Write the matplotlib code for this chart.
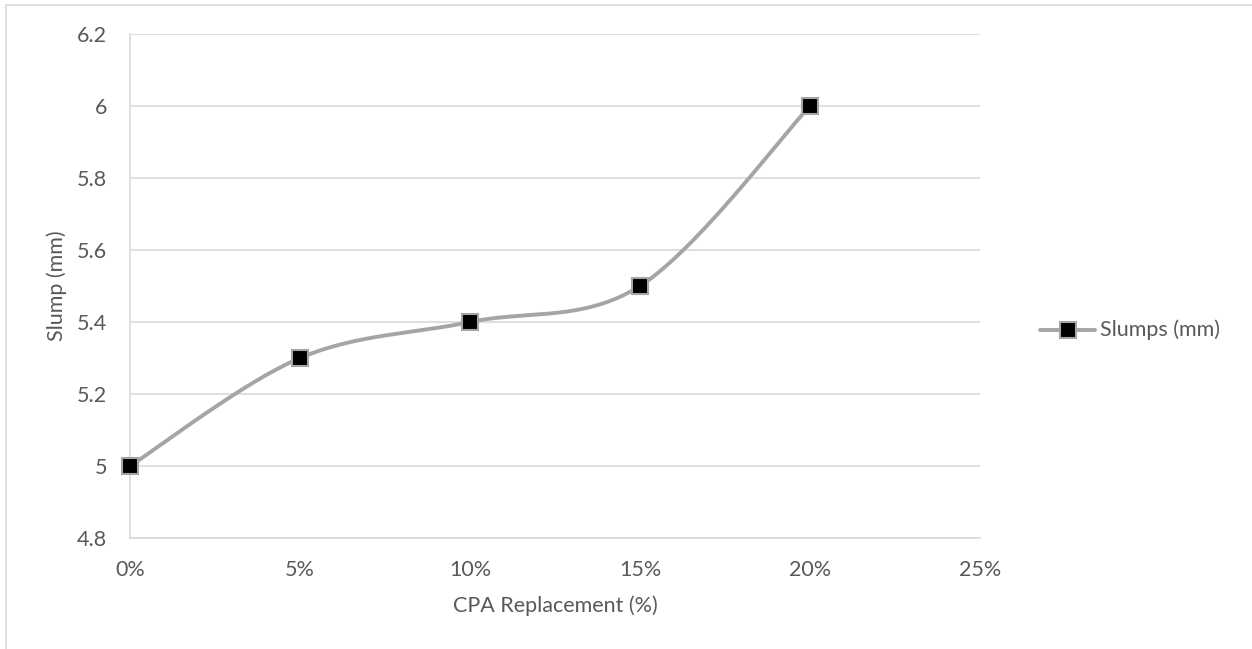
import matplotlib.pyplot as plt
import numpy as np
from matplotlib.patches import Rectangle
from matplotlib.ticker import FuncFormatter

plt.rcParams["font.family"] = ["Lato", "DejaVu Sans"]

replacement = [0.00, 0.05, 0.10, 0.15, 0.20]
slump = [5.0, 5.3, 5.4, 5.5, 6.0]
series_name = "Slumps (mm)"

text_col = "#595959"
grid_col = "#D9D9D9"
line_col = "#A5A5A5"
fs = 15.5


def smooth(xs, ys, n=60):
    # cubic bezier through the points, like a spreadsheet "smoothed line"
    p = np.column_stack([xs, ys]).astype(float)
    ext = np.vstack([p[0], p, p[-1]])
    t = np.linspace(0, 1, n)[:, None]
    out = []
    for i in range(len(p) - 1):
        p0, p1, p2, p3 = ext[i], ext[i + 1], ext[i + 2], ext[i + 3]
        c1 = p1 + (p2 - p0) / 6
        c2 = p2 - (p3 - p1) / 6
        seg = ((1 - t) ** 3) * p1 + 3 * ((1 - t) ** 2) * t * c1 \
            + 3 * (1 - t) * t ** 2 * c2 + t ** 3 * p2
        out.append(seg if i == 0 else seg[1:])
    out = np.vstack(out)
    return out[:, 0], out[:, 1]


fig = plt.figure(figsize=(12.52, 6.49), dpi=100)
fig.patches.append(Rectangle((6 / 1252, -0.1), 1.2, 1 - 5 / 649 + 0.1,
                             transform=fig.transFigure, fill=False,
                             edgecolor=grid_col, linewidth=1.2))
ax = fig.add_axes([130 / 1252, 1 - 538 / 649, 850 / 1252, 504 / 649])

sx, sy = smooth(replacement, slump)
ax.plot(sx, sy, color=line_col, linewidth=2.8, solid_capstyle="round",
        zorder=3, clip_on=False)
ax.plot(replacement, slump, linestyle="none", marker="s", markersize=11,
        markerfacecolor="black", markeredgecolor=line_col, markeredgewidth=1.5,
        zorder=4, clip_on=False)

ax.set_xlim(0, 0.25)
ax.set_ylim(4.8, 6.2)
ax.set_xticks(np.arange(0, 0.26, 0.05))
ax.set_yticks(np.arange(4.8, 6.21, 0.2))
ax.xaxis.set_major_formatter(FuncFormatter(lambda v, _: f"{v * 100:.0f}%"))
ax.yaxis.set_major_formatter(FuncFormatter(
    lambda v, _: f"{round(v)}" if abs(v - round(v)) < 1e-9 else f"{v:.1f}"))
ax.grid(axis="y", color=grid_col, linewidth=1.2)
ax.set_axisbelow(True)
for s in ["top", "right"]:
    ax.spines[s].set_visible(False)
for s in ["left", "bottom"]:
    ax.spines[s].set_color(grid_col)
    ax.spines[s].set_linewidth(1.2)
ax.tick_params(length=0, labelsize=fs, colors=text_col)
ax.tick_params(axis="y", pad=16.5)
ax.tick_params(axis="x", pad=16)

ax.set_xlabel("CPA Replacement (%)", fontsize=fs, color=text_col, labelpad=11)
ax.set_ylabel("Slump (mm)", fontsize=fs, color=text_col, labelpad=7)

# legend entry on the right
lx = [1040 / 1252, 1095 / 1252]
ly = 1 - 330 / 649
fig.add_artist(plt.Line2D(lx, [ly, ly], transform=fig.transFigure,
                          color=line_col, linewidth=2.8, solid_capstyle="round"))
fig.add_artist(plt.Line2D([sum(lx) / 2], [ly], transform=fig.transFigure,
                          marker="s", markersize=11, markerfacecolor="black",
                          markeredgecolor=line_col, markeredgewidth=1.5))
fig.text(1100 / 1252, ly, series_name, fontsize=fs, color=text_col, va="center")

fig.savefig("out.png", dpi=100)
